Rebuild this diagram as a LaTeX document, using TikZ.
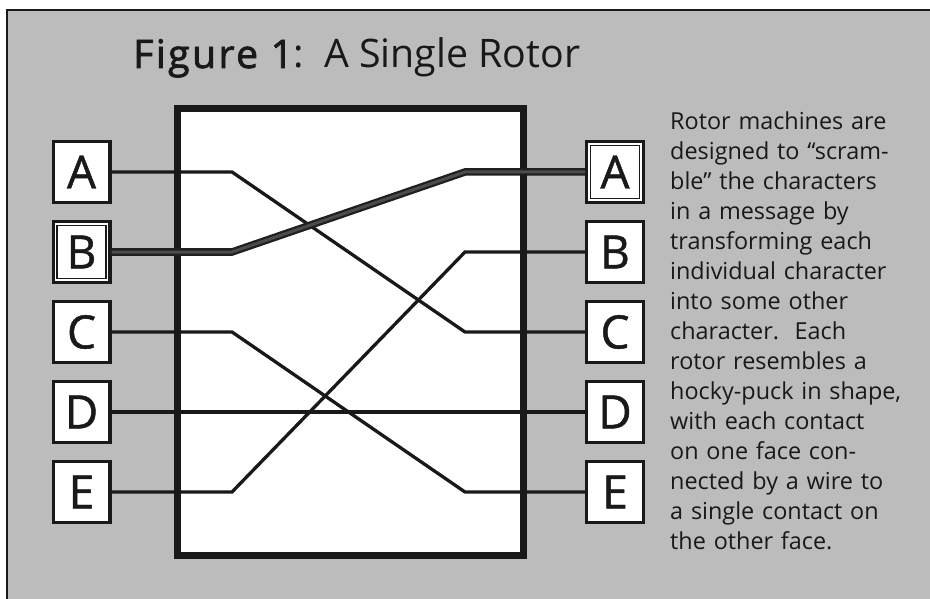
\documentclass[tikz,border=0pt]{standalone}
\usepackage{fontspec}
\setmainfont{Open Sans}
\newfontfamily\semib{Open Sans}[FakeBold=2,LetterSpace=6]
\newfontfamily\letterfont{Open Sans}[FakeBold=1]
\definecolor{bg}{RGB}{188,188,188}
\definecolor{ink}{RGB}{25,25,25}
\begin{document}
\begin{tikzpicture}[x=1pt,y=-1pt,
  letter/.style={draw=ink, line width=3.2pt, fill=white, minimum width=56.8pt, minimum height=60.8pt, inner sep=0pt, font=\letterfont\fontsize{46}{46}\selectfont, text=ink},
  wire/.style={draw=ink, line width=3.3pt},
  mainwire/.style={draw=black!88, line width=7.5pt},
  maincore/.style={draw=black!70, line width=3pt},
  innerline/.style={draw=ink, line width=1.3pt}]
\useasboundingbox (0,0) rectangle (930,599);
\fill[white] (0,0) rectangle (930,599);
\fill[bg] (7,10) rectangle (931,600);
\draw[ink, line width=1.5pt] (7,600) -- (7,10) -- (931,10);

\node[anchor=base west, inner sep=0pt, font=\fontsize{39.3}{39.3}\selectfont, text=ink] (title) at (133,68) {{\semib Figure 1}:~~A Single Rotor};

\node[draw=ink, line width=7pt, fill=white, minimum width=345.5pt, minimum height=446pt, inner sep=0pt, outer sep=0pt] (rotor) at (350.25,332) {};

\node[letter] (LA) at (81.5,172) {A};
\node[letter] (LB) at (81.5,252) {B};
\node[letter] (LC) at (81.5,332) {C};
\node[letter] (LD) at (81.5,412) {D};
\node[letter] (LE) at (81.5,492) {E};
\node[letter] (RA) at (615,172) {A};
\node[letter] (RB) at (615,252) {B};
\node[letter] (RC) at (615,332) {C};
\node[letter] (RD) at (615,412) {D};
\node[letter] (RE) at (615,492) {E};
\draw[innerline] ([shift={(5.5,5.5)}]LB.north west) rectangle ([shift={(-5.5,-5.5)}]LB.south east);
\draw[innerline] ([shift={(5.5,5.5)}]RA.north west) rectangle ([shift={(-5.5,-5.5)}]RA.south east);

\draw[wire] (LA.east) -- (232,172) -- (465,332) -- (RC.west);
\draw[wire] (LC.east) -- (232,332) -- (465,492) -- (RE.west);
\draw[wire] (LD.east) -- (RD.west);
\draw[wire] (LE.east) -- (232,492) -- (465,252) -- (RB.west);
\draw[mainwire] (LB.east) -- (232,252) -- (465,172) -- (RA.west);
\draw[maincore] (LB.east) -- (232,252) -- (465,172) -- (RA.west);

\node[anchor=base west, inner sep=0pt, text width=260pt, align=left, font=\fontsize{23.4}{30}\selectfont, text=ink] (desc) at (670,130) {Rotor machines are\\
designed to “scram-\\
ble” the characters\\
in a message by\\
transforming each\\
individual character\\
into some other\\
character.~~Each\\
rotor resembles a\\
hocky-puck in shape,\\
with each contact\\
on one face con-\\
nected by a wire to\\
a single contact on\\
the other face.};
\end{tikzpicture}
\end{document}
